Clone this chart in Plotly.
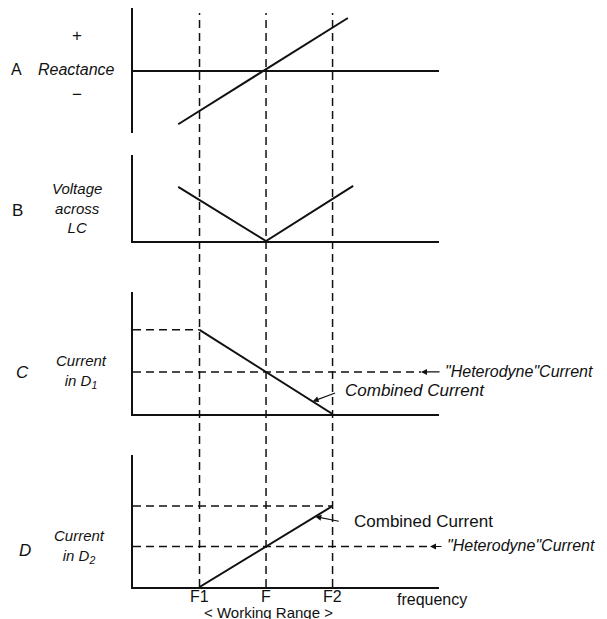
import numpy as np
import plotly.graph_objects as go
from plotly.subplots import make_subplots

# frequency marks (F1 < F < F2) and their labels
FREQ = [1.0, 2.0, 3.0]
FREQ_LABELS = ["F1", "F", "F2"]

# A: reactance, goes through zero at F
REACT_X = [0.68, 3.23]
REACT_Y = [-0.86, 0.84]

# B: voltage across LC, V shape with minimum at F
VOLT_X = [0.68, 2.0, 3.31]
VOLT_Y = [1.0, 0.0, 1.02]

# C: current in D1 (falls from max at F1 to zero at F2)
C_MAX = 1.0
C_HET = 0.5
C_COMB_X = [1.0, 3.0]
C_COMB_Y = [1.0, 0.0]

# D: current in D2 (rises from zero at F1 to max at F2)
D_MAX = 1.0
D_HET = 0.5
D_COMB_X = [1.0, 3.0]
D_COMB_Y = [0.0, 1.0]

# the page has an 8px body margin, so the figure is a bit smaller than the window
OFF = 8
W, H = 607 - OFF, 619 - OFF
L, R, T, B = 125, 168, 0, 32
PW, PH = W - L - R, H - T - B

HAND = "Liberation Sans, Arial, sans-serif"
PLAIN = "Liberation Sans, Arial, sans-serif"
INK = "#111111"


# helpers: window pixel -> paper fraction
def px(x):
    return (x - OFF - L) / PW


def py(y):
    return (H - B - (y - OFF)) / PH


fig = make_subplots(rows=4, cols=1, shared_xaxes=True, vertical_spacing=0.02)

solid = dict(color=INK, width=2)
dashed = dict(color=INK, width=1.5, dash="8px,5px")

fig.add_trace(go.Scatter(x=REACT_X, y=REACT_Y, mode="lines", line=solid), row=1, col=1)
fig.add_trace(go.Scatter(x=VOLT_X, y=VOLT_Y, mode="lines", line=solid), row=2, col=1)
fig.add_trace(go.Scatter(x=[0, FREQ[0]], y=[C_MAX, C_MAX], mode="lines", line=dashed), row=3, col=1)
fig.add_trace(go.Scatter(x=C_COMB_X, y=C_COMB_Y, mode="lines", line=solid), row=3, col=1)
fig.add_trace(go.Scatter(x=[0, FREQ[2]], y=[D_MAX, D_MAX], mode="lines", line=dashed), row=4, col=1)
fig.add_trace(go.Scatter(x=D_COMB_X, y=D_COMB_Y, mode="lines", line=solid), row=4, col=1)

# heterodyne current levels, dashed across the panel
fig.add_shape(type="line", xref="paper", yref="y3", x0=0, x1=px(421), y0=C_HET, y1=C_HET, line=dashed)
fig.add_shape(type="line", xref="paper", yref="y4", x0=0, x1=px(430), y0=D_HET, y1=D_HET, line=dashed)

# vertical guide lines at F1, F, F2
for f in FREQ:
    fig.add_shape(type="line", xref="x4", yref="paper", x0=f, x1=f, y0=0, y1=py(13), line=dashed)

fig.update_layout(
    width=W, height=H,
    margin=dict(l=L, r=R, t=T, b=B, autoexpand=False),
    paper_bgcolor="white", plot_bgcolor="white",
    showlegend=False,
    font=dict(family=HAND, color=INK),
)

domains = [(py(133), py(8)), (py(241), py(155)), (py(414), py(292)), (0, py(455))]
yranges = [[-1, 1], [0, 1.59], [0, 1.45], [0, 1.63]]
for i, (dom, yr) in enumerate(zip(domains, yranges), start=1):
    fig.update_yaxes(row=i, col=1, domain=[max(0, dom[0]), min(1, dom[1])], range=yr,
                     showline=True, linecolor=INK, linewidth=1.5, showgrid=False,
                     showticklabels=False, ticks="",
                     zeroline=(i == 1), zerolinecolor=INK, zerolinewidth=1.5)
    fig.update_xaxes(row=i, col=1, range=[0, 4.6], showgrid=False, zeroline=False,
                     showline=(i > 1), linecolor=INK, linewidth=1.5, ticks="",
                     showticklabels=False)


def label(text, x, y, size=16, font=HAND, anchor="center"):
    fig.add_annotation(text=text, x=px(x), y=py(y), xref="paper", yref="paper",
                       showarrow=False, xanchor=anchor, yanchor="middle",
                       font=dict(family=font, size=size, color=INK))


# frequency labels under the bottom panel
for f, name in zip(FREQ, FREQ_LABELS):
    fig.add_annotation(text=name, x=f, y=py(596), xref="x4", yref="paper", showarrow=False,
                       xanchor="center", yanchor="middle",
                       font=dict(family=PLAIN, size=16, color=INK))

# left labels
label("+", 77, 35, size=17)
label("−", 77, 94, size=17)
label("A", 16, 70, size=16)
label("<i>Reactance</i>", 76, 70)
label("B", 17, 210, size=17)
label("<i>Voltage<br>across<br>LC</i>", 77, 208, size=15)
label("<i>C</i>", 22, 373, size=17)
label("<i>Current<br>in D<sub>1</sub></i>", 81, 371, size=15)
label("<i>D</i>", 25, 550, size=17)
label("<i>Current<br>in D<sub>2</sub></i>", 79, 546, size=15)

# right labels
label("<i>\"Heterodyne\"Current</i>", 443, 371, size=16, anchor="left")
label("<i>Combined Current</i>", 343, 390, size=17, anchor="left")
label("Combined Current", 352, 521, size=17, font=PLAIN, anchor="left")
label("<i>\"Heterodyne\"Current</i>", 445, 545, size=16, anchor="left")
label("frequency", 395, 599, size=16, font=PLAIN, anchor="left")
label("< Working Range >", 268, 612, size=15)

# arrows
arrow = dict(showarrow=True, arrowhead=2, arrowsize=1, arrowwidth=1.2, arrowcolor=INK, text="")
fig.add_annotation(x=px(421), y=C_HET, xref="paper", yref="y3", ax=20, ay=0, **arrow)
fig.add_annotation(x=px(430), y=D_HET, xref="paper", yref="y4", ax=13, ay=0, **arrow)
cx = 2.7
fig.add_annotation(x=cx, y=float(np.interp(cx, C_COMB_X, C_COMB_Y)), xref="x3", yref="y3",
                   ax=24, ay=-9, **arrow)
dx = 2.74
fig.add_annotation(x=dx, y=float(np.interp(dx, D_COMB_X, D_COMB_Y)), xref="x4", yref="y4",
                   ax=25, ay=5, **arrow)

fig.write_html("out.html")
